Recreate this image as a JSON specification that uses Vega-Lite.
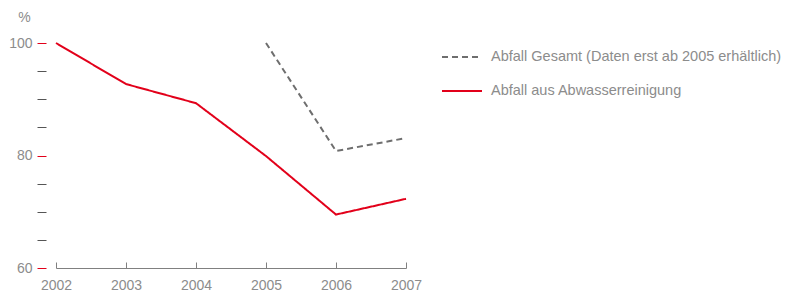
{
  "$schema": "https://vega.github.io/schema/vega-lite/v6.json",
  "width": 350,
  "height": 225,
  "autosize": {"type": "none"},
  "padding": {"left": 56, "top": 43, "right": 379, "bottom": 24},
  "background": "white",
  "config": {
    "view": {"stroke": null},
    "font": "Liberation Sans",
    "axis": {"grid": false, "labelFont": "Liberation Sans", "labelFontWeight": "normal", "labelColor": "#8c8c8c", "labelFontSize": 14},
    "legend": {"labelFont": "Liberation Sans", "labelFontWeight": "normal"}
  },
  "data": {
    "values": [
      {"year": 2002, "value": 100, "series": "Abfall aus Abwasserreinigung"},
      {"year": 2003, "value": 92.7, "series": "Abfall aus Abwasserreinigung"},
      {"year": 2004, "value": 89.3, "series": "Abfall aus Abwasserreinigung"},
      {"year": 2005, "value": 79.9, "series": "Abfall aus Abwasserreinigung"},
      {"year": 2006, "value": 69.5, "series": "Abfall aus Abwasserreinigung"},
      {"year": 2007, "value": 72.3, "series": "Abfall aus Abwasserreinigung"},
      {"year": 2005, "value": 100, "series": "Abfall Gesamt (Daten erst ab 2005 erhältlich)"},
      {"year": 2006, "value": 80.8, "series": "Abfall Gesamt (Daten erst ab 2005 erhältlich)"},
      {"year": 2007, "value": 83.1, "series": "Abfall Gesamt (Daten erst ab 2005 erhältlich)"}
    ]
  },
  "mark": {"type": "line", "strokeWidth": 2},
  "encoding": {
    "x": {
      "field": "year",
      "type": "quantitative",
      "scale": {"domain": [2002, 2007], "nice": false, "zero": false},
      "axis": {
        "title": null,
        "values": [2002, 2003, 2004, 2005, 2006, 2007],
        "format": "d",
        "domainColor": "#808080",
        "tickColor": "#808080",
        "tickSize": -6,
        "labelPadding": 16,
        "labelFlush": false
      }
    },
    "y": {
      "field": "value",
      "type": "quantitative",
      "scale": {"domain": [60, 100], "nice": false, "zero": false},
      "axis": {
        "title": "%",
        "titleAngle": 0,
        "titleAlign": "center",
        "titleBaseline": "middle",
        "titleX": -22,
        "titleY": -26,
        "titleColor": "#8c8c8c",
        "titleFont": "Liberation Sans",
        "titleFontWeight": "normal",
        "titleFontSize": 14,
        "values": [60, 65, 70, 75, 80, 85, 90, 95, 100],
        "labelExpr": "datum.value % 20 === 0 ? datum.label : ''",
        "domain": false,
        "offset": 10,
        "tickSize": 9,
        "tickWidth": 1,
        "tickColor": {"condition": {"test": "datum.value % 20 === 0", "value": "#e2001a"}, "value": "#555555"},
        "labelPadding": 5
      }
    },
    "color": {
      "field": "series",
      "type": "nominal",
      "scale": {
        "domain": ["Abfall Gesamt (Daten erst ab 2005 erhältlich)", "Abfall aus Abwasserreinigung"],
        "range": ["#6e6e6e", "#e2001a"]
      },
      "legend": {
        "title": null,
        "orient": "none",
        "legendX": 385,
        "legendY": -7,
        "symbolType": "stroke",
        "symbolSize": 1600,
        "symbolStrokeWidth": 2,
        "labelFontSize": 14.5,
        "labelColor": "#8c8c8c",
        "labelOffset": 8,
        "labelLimit": 0,
        "rowPadding": 6
      }
    },
    "strokeDash": {
      "field": "series",
      "type": "nominal",
      "scale": {
        "domain": ["Abfall Gesamt (Daten erst ab 2005 erhältlich)", "Abfall aus Abwasserreinigung"],
        "range": [[6, 4], [1, 0]]
      },
      "legend": null
    }
  }
}
